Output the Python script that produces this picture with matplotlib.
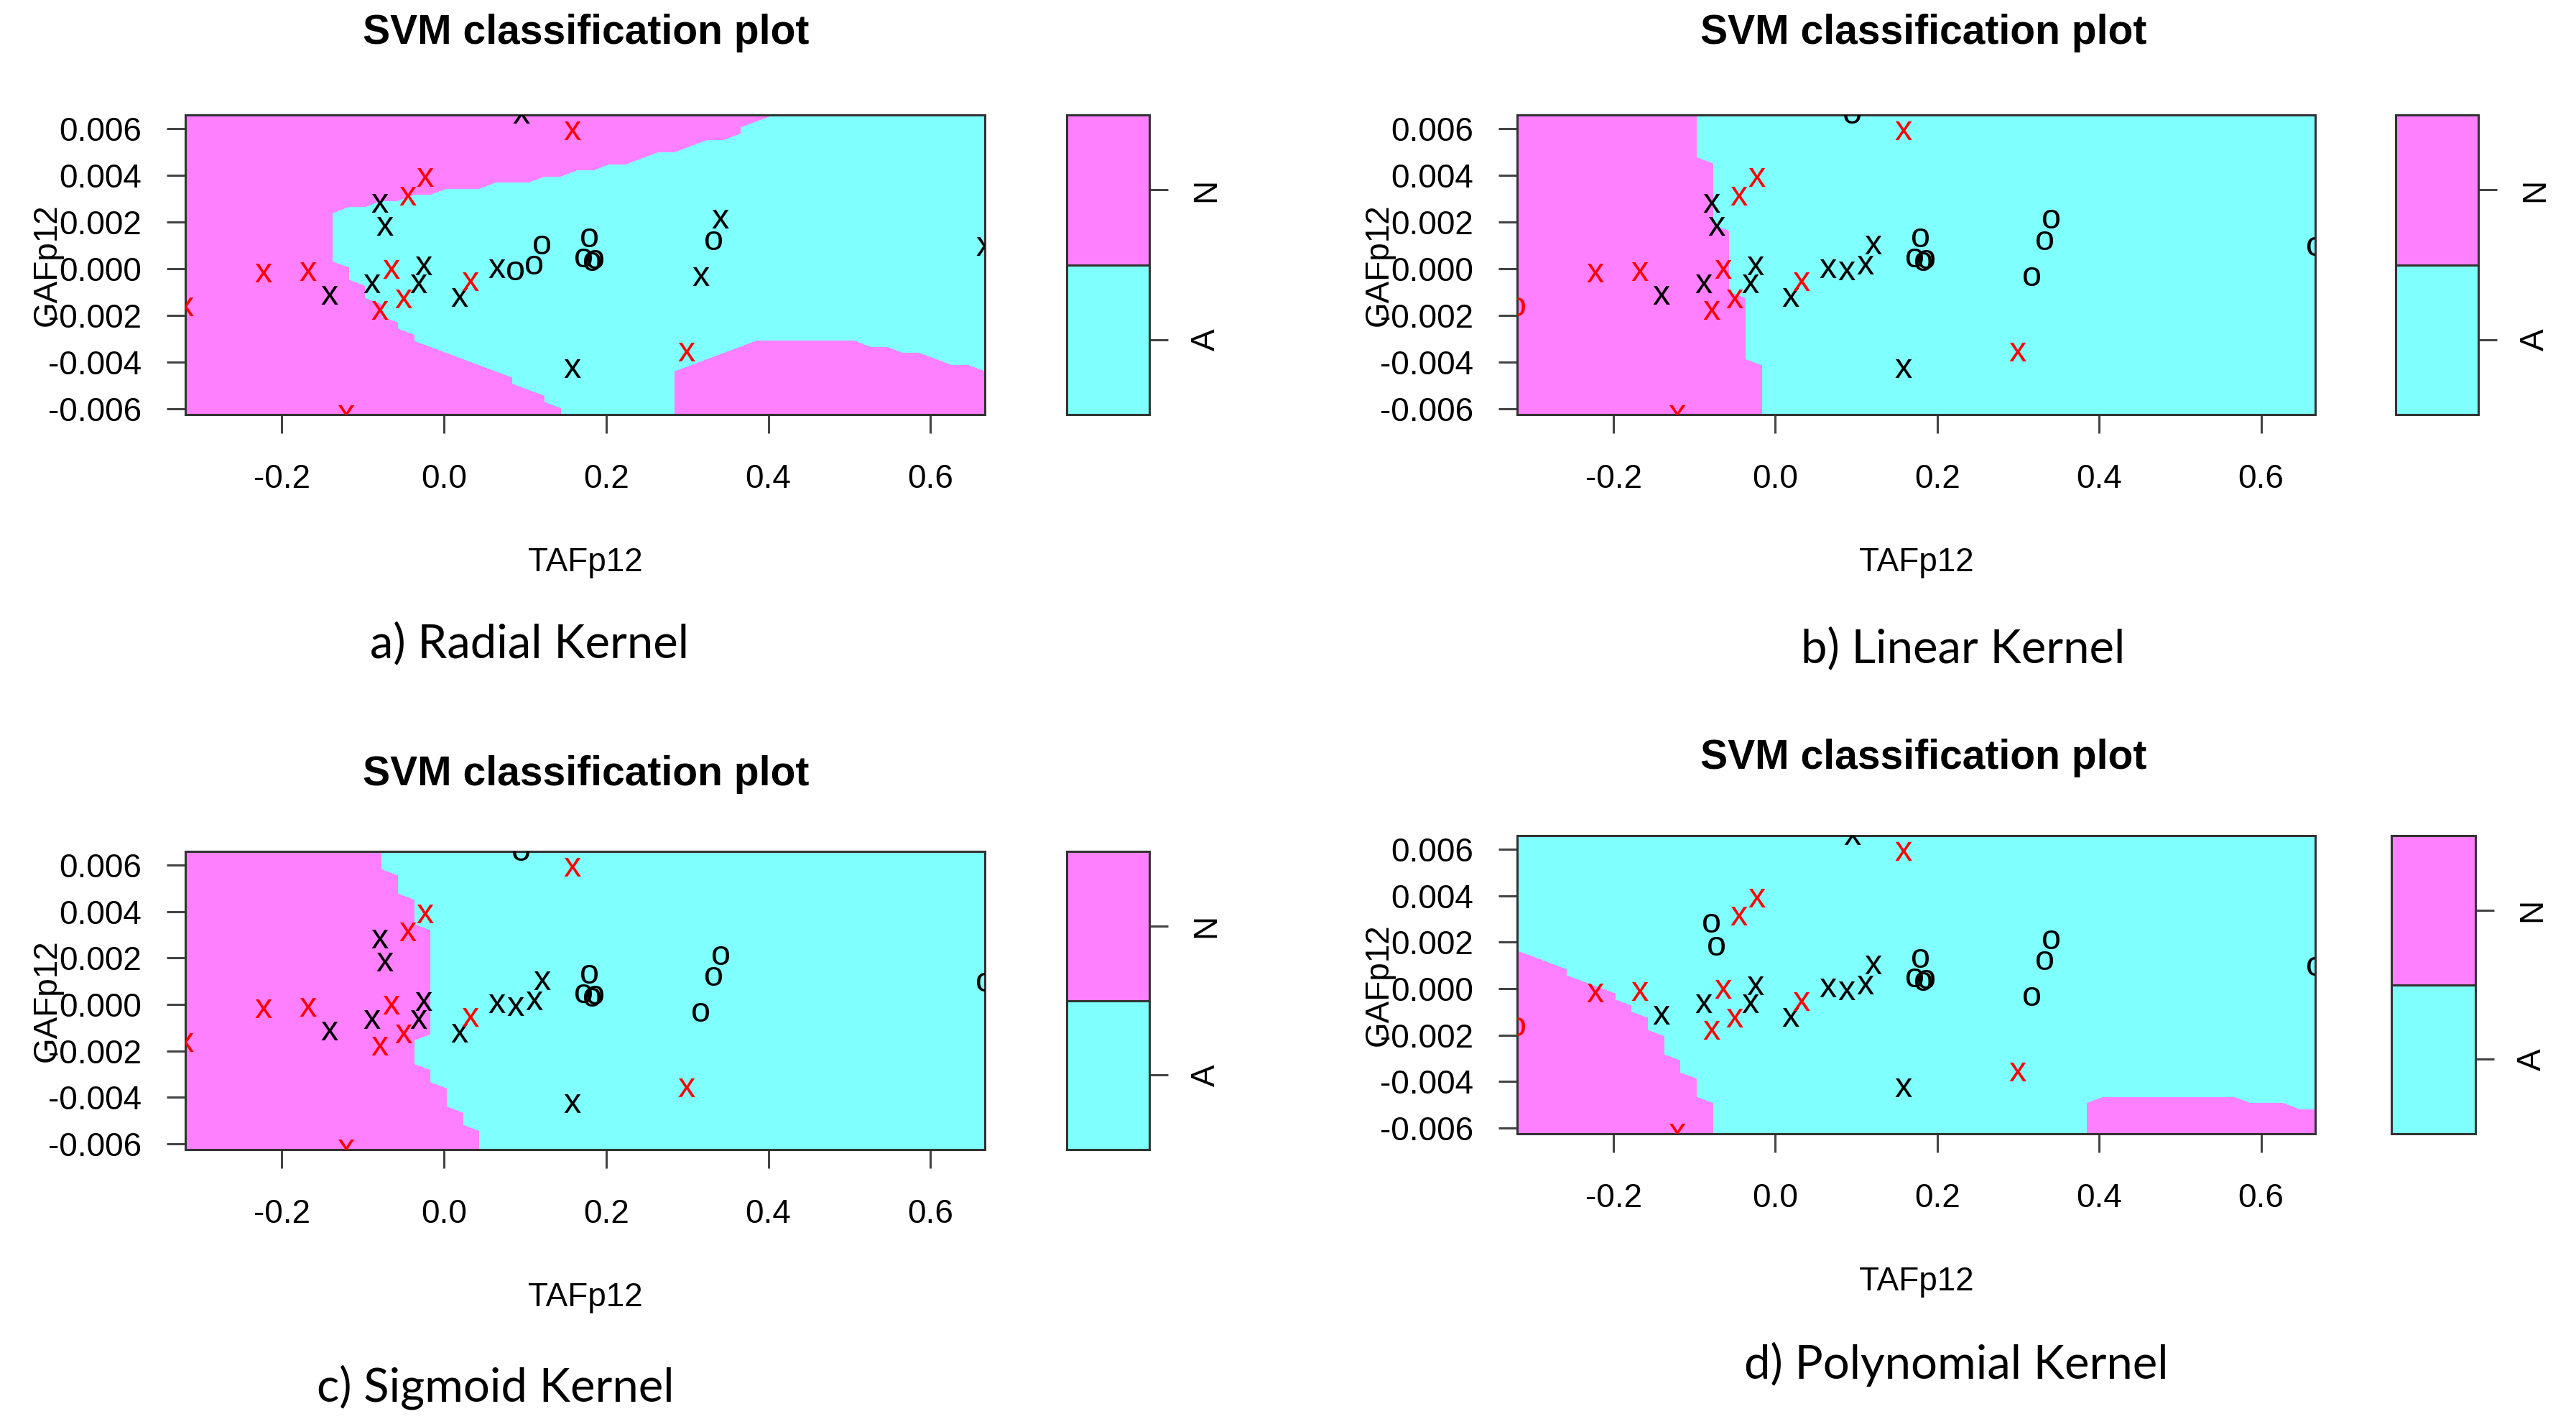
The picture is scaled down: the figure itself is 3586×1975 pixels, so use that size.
import numpy as np
import matplotlib
matplotlib.use("Agg")
import matplotlib.pyplot as plt
from matplotlib.path import Path

plt.rcParams['font.family'] = ['Liberation Sans', 'DejaVu Sans']
plt.rcParams['axes.unicode_minus'] = False

# observations (TAFp12, GAFp12) and their class
taf = [0.095, 0.158, -0.023, -0.045, -0.079, -0.073, -0.223, -0.168, -0.141, -0.089,
       -0.065, -0.025, -0.031, -0.050, -0.079, 0.019, 0.032, 0.158, -0.121, -0.319,
       0.065, 0.088, 0.111, 0.121, 0.179, 0.172, 0.186, 0.341, 0.333, 0.667,
       0.317, 0.299, 0.183]
gaf = [0.0066, 0.0059, 0.0039, 0.0031, 0.0028, 0.0018, -0.0002, -0.00015, -0.00115, -0.00067,
       -0.00005, 0.0001, -0.00067, -0.0013, -0.0018, -0.00124, -0.00057, -0.0043, -0.00626, -0.00165,
       0.0, -0.0001, 0.00015, 0.0010, 0.0013, 0.00046, 0.0004, 0.0021, 0.0012, 0.00095,
       -0.00036, -0.0036, 0.0003]
label = ["A", "N", "N", "N", "A", "A", "N", "N", "A", "A",
         "N", "A", "A", "N", "N", "A", "N", "A", "N", "N",
         "A", "A", "A", "A", "A", "A", "A", "A", "A", "A",
         "A", "N", "A"]

# support vectors (drawn as x) for each kernel, others drawn as o
sv_radial = [1, 1, 1, 1, 1, 1, 1, 1, 1, 1, 1, 1, 1, 1, 1, 1, 1, 1, 1, 1,
             1, 0, 0, 0, 0, 0, 0, 1, 0, 1, 1, 1, 0]
sv_linear = [0, 1, 1, 1, 1, 1, 1, 1, 1, 1, 1, 1, 1, 1, 1, 1, 1, 1, 1, 0,
             1, 1, 1, 1, 0, 0, 0, 0, 0, 0, 0, 1, 0]
sv_sigmoid = [0, 1, 1, 1, 1, 1, 1, 1, 1, 1, 1, 1, 1, 1, 1, 1, 1, 1, 1, 1,
              1, 1, 1, 1, 0, 0, 0, 0, 0, 0, 0, 1, 0]
sv_poly = [1, 1, 1, 1, 0, 0, 1, 1, 1, 1, 1, 1, 1, 1, 1, 1, 1, 1, 1, 0,
           1, 1, 1, 1, 0, 0, 0, 0, 0, 0, 0, 1, 0]

# decision regions (outline of the minority class)
radial_a_x = [-0.130, -0.130, -0.110, -0.087, -0.047, 0.001, 0.073, 0.133, 0.172, 0.212,
              0.252, 0.296, 0.317, 0.358, 0.391, 0.425, 0.70, 0.70, 0.6655, 0.637,
              0.6045, 0.572, 0.522, 0.502, 0.383, 0.350, 0.308, 0.272, 0.272, 0.155,
              0.1524, 0.1286, 0.1045, 0.0827, 0.0249, -0.007, -0.019, -0.051, -0.059, -0.071,
              -0.079, -0.087, -0.103, -0.110, -0.110]
radial_a_y = [0.0002, 0.0021, 0.0026, 0.0027, 0.0030, 0.0033, 0.0035, 0.0038, 0.0041, 0.0043,
              0.0047, 0.0051, 0.0052, 0.0057, 0.0062, 0.0070, 0.0070, -0.0043, -0.0042, -0.0040,
              -0.0038, -0.0034, -0.0032, -0.0029, -0.0029, -0.0034, -0.0040, -0.0044, -0.0070, -0.0070,
              -0.0060, -0.0054, -0.0050, -0.0045, -0.0039, -0.0032, -0.0031, -0.0023, -0.0022, -0.0018,
              -0.0013, -0.0009, -0.0006, -0.0004, 0.0002]
linear_a_x = [-0.095, 0.70, 0.70, 0.003]
linear_a_y = [0.007, 0.007, -0.007, -0.007]
sigmoid_a_x = [-0.067, 0.70, 0.70, 0.053, 0.053, 0.033, 0.033, 0.013, 0.013, -0.007,
               -0.007, -0.027, -0.027, -0.007, -0.007, -0.027, -0.027, -0.047, -0.047, -0.067]
sigmoid_a_y = [0.0070, 0.0070, -0.0070, -0.0070, -0.00528, -0.00528, -0.00456, -0.00456, -0.00363, -0.00363,
               -0.0026, -0.0026, -0.00136, -0.00136, 0.00328, 0.00328, 0.00472, 0.00472, 0.00576, 0.00576]
poly_n1_x = [-0.35, -0.2975, -0.2778, -0.25, -0.25, -0.2302, -0.1906, -0.1708, -0.151, -0.147,
             -0.1312, -0.129, -0.1114, -0.109, -0.0916, -0.0896, -0.0717, -0.0706, -0.35]
poly_n1_y = [0.00175, 0.00156, 0.0013, 0.00094, 0.00058, 0.00043, -0.00029, -0.0008, -0.00132, -0.00194,
             -0.00214, -0.00276, -0.00297, -0.00359, -0.0037, -0.00482, -0.00498, -0.0070, -0.0070]
poly_n2_x = [0.368, 0.372, 0.390, 0.4125, 0.573, 0.587, 0.634, 0.645, 0.70, 0.70]
poly_n2_y = [-0.0070, -0.0053, -0.0048, -0.0045, -0.0045, -0.0047, -0.00475, -0.00496, -0.0051, -0.0070]

x_ticks = [-0.2, 0.0, 0.2, 0.4, 0.6]
y_ticks = [-0.006, -0.004, -0.002, 0.0, 0.002, 0.004, 0.006]
classes = ["A", "N"]
class_colors = ["#80FFFF", "#FF80FF"]
point_colors = {"A": "black", "N": "red"}
captions = ["a) Radial Kernel", "b) Linear Kernel", "c) Sigmoid Kernel", "d) Polynomial Kernel"]

W, H = 3586, 1975
GRID = 50

fig = plt.figure(figsize=(W / 100, H / 100), dpi=100)


def rect(l, r, t, b):
    return [l / W, 1 - b / H, (r - l) / W, (b - t) / H]


def class_grid(base, other, polygons):
    # predicted class (1 = A, 2 = N) on a GRID x GRID lattice, like plot.svm
    xr = np.linspace(min(taf), max(taf), GRID)
    yr = np.linspace(min(gaf), max(gaf), GRID)
    xx, yy = np.meshgrid(xr, yr)
    pts = np.column_stack([xx.ravel(), yy.ravel()])
    z = np.full(xx.shape, classes.index(base) + 1.0)
    for px, py in polygons:
        inside = Path(np.column_stack([px, py])).contains_points(pts).reshape(xx.shape)
        z[inside] = classes.index(other) + 1.0
    return xr, yr, z


def svm_panel(box, key_box, title_xy, caption, caption_xy, regions, sv):
    l, r, t, b = box
    ax = fig.add_axes(rect(l, r, t, b))
    xr, yr, z = class_grid(*regions)
    ax.contourf(xr, yr, z, levels=[1, 1.999, 3], colors=class_colors)

    for x, y, c, s in zip(taf, gaf, label, sv):
        ax.text(x, y, "x" if s else "o", color=point_colors[c], fontsize=35,
                ha="center", va="center", clip_on=True)

    ax.set_xlim(min(taf), max(taf))
    ax.set_ylim(min(gaf), max(gaf))
    ax.set_xticks(x_ticks)
    ax.set_xticklabels([f"{v:.1f}" for v in x_ticks])
    ax.set_yticks(y_ticks)
    ax.set_yticklabels([f"{v:.3f}" for v in y_ticks])
    ax.tick_params(axis="both", length=19, width=2.2, color="#444444", labelsize=33)
    ax.tick_params(axis="x", pad=30)
    ax.tick_params(axis="y", pad=25)
    for sp in ax.spines.values():
        sp.set_linewidth(2.2)
        sp.set_color("#333333")

    hpx = b - t
    wpx = r - l
    ax.set_xlabel("TAFp12", fontsize=33, va="center")
    ax.xaxis.set_label_coords(0.5, -206 / hpx)
    ax.set_ylabel("GAFp12", fontsize=33, va="center")
    ax.yaxis.set_label_coords(-192 / wpx, 0.5)

    # colour key
    kl, kr = key_box
    cax = fig.add_axes(rect(kl, kr, t, b))
    key_levels = [1, 2, 3]
    for i, col in enumerate(class_colors):
        cax.axhspan(key_levels[i], key_levels[i + 1], color=col, linewidth=0)
    cax.axhline(2, color="#333333", linewidth=2.2)
    cax.set_xlim(0, 1)
    cax.set_ylim(1, 3)
    cax.set_xticks([])
    cax.yaxis.tick_right()
    cax.set_yticks([1.5, 2.5])
    cax.set_yticklabels(classes, rotation=90, va="center")
    cax.tick_params(axis="y", length=19, width=2.2, color="#444444", labelsize=33, pad=22)
    for sp in cax.spines.values():
        sp.set_linewidth(2.2)
        sp.set_color("#333333")

    fig.text(title_xy[0] / W, 1 - title_xy[1] / H, "SVM classification plot",
             fontsize=41, fontweight="bold", ha="center", va="center")
    fig.text(caption_xy[0] / W, 1 - caption_xy[1] / H, caption,
             fontsize=47, family=["Lato", "DejaVu Sans"], ha="center", va="center")


svm_panel((258, 1371, 160, 577), (1485, 1600), (816, 46), captions[0], (737, 896),
          ("N", "A", [(radial_a_x, radial_a_y)]), sv_radial)
svm_panel((2112, 3223, 160, 577), (3335, 3450), (2678, 46), captions[1], (2733, 903),
          ("N", "A", [(linear_a_x, linear_a_y)]), sv_linear)
svm_panel((258, 1371, 1185, 1600), (1485, 1600), (816, 1078), captions[2], (690, 1931),
          ("N", "A", [(sigmoid_a_x, sigmoid_a_y)]), sv_sigmoid)
svm_panel((2112, 3223, 1163, 1578), (3329, 3446), (2678, 1055), captions[3], (2723, 1899),
          ("A", "N", [(poly_n1_x, poly_n1_y), (poly_n2_x, poly_n2_y)]), sv_poly)

fig.savefig("out.png", dpi=100, facecolor="white")
